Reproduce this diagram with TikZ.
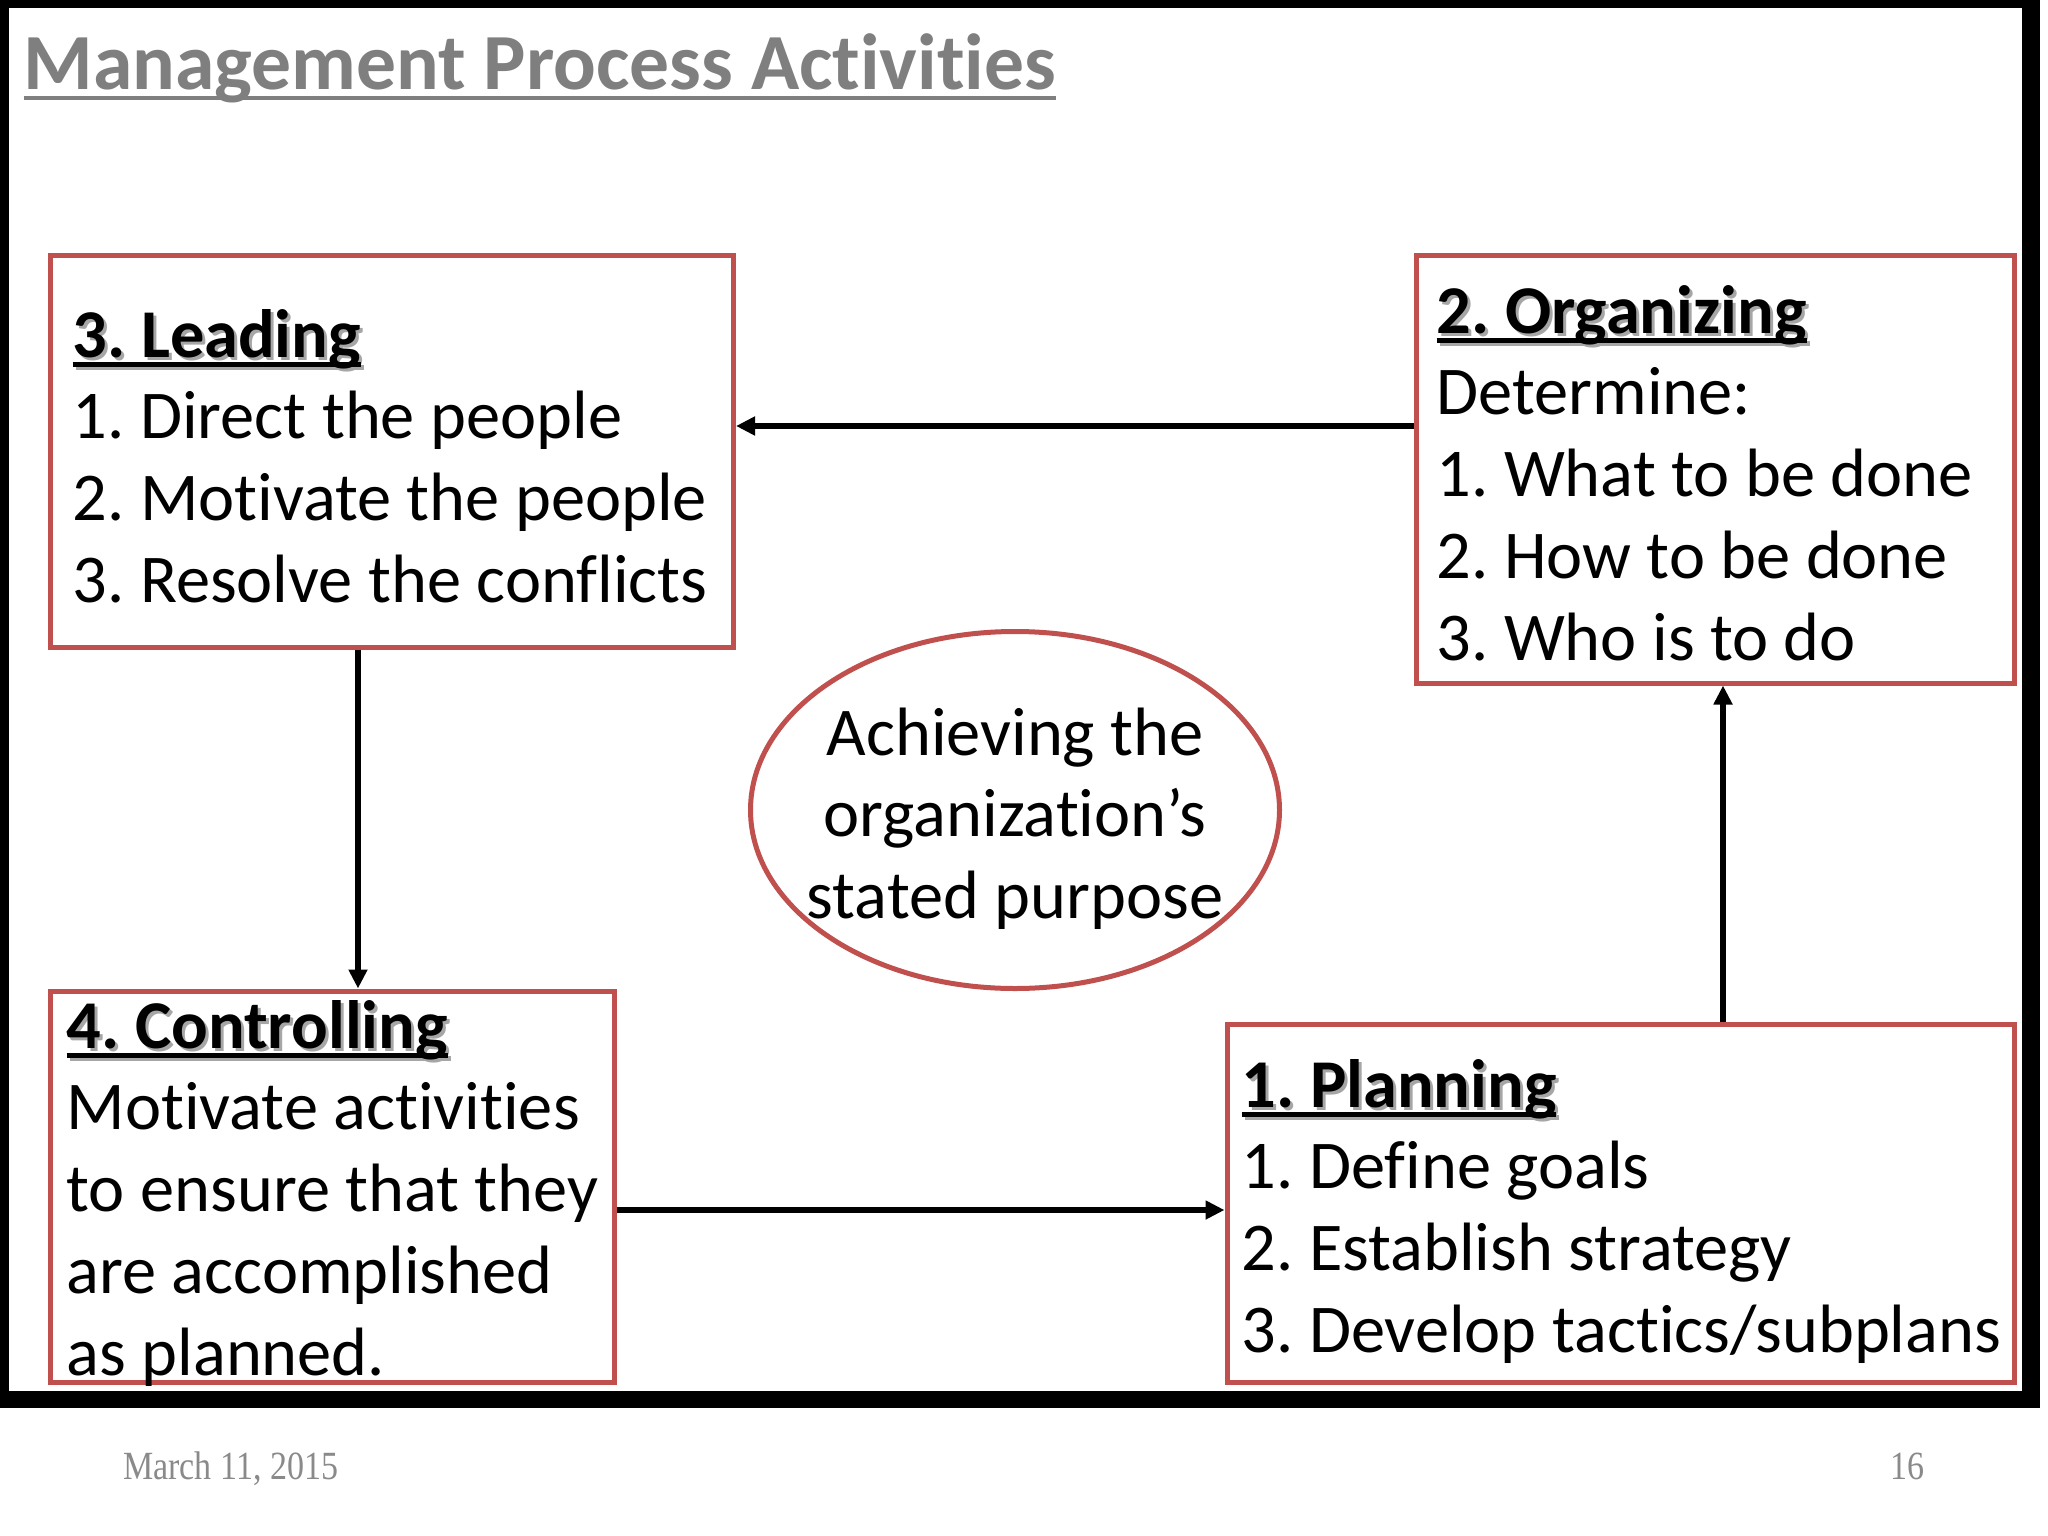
\documentclass[tikz,border=0pt]{standalone}
\usepackage{fontspec}
\usepackage{graphicx}
\setmainfont{Carlito}[Ligatures={NoCommon}]
\newfontfamily\footfont{Liberation Serif}
\usetikzlibrary{arrows.meta,shapes.geometric}
\definecolor{boxred}{HTML}{C0504D}
\definecolor{titlegray}{HTML}{7F7F7F}
\definecolor{footgray}{HTML}{8A8A8A}
\definecolor{shadowgray}{HTML}{A6A6A6}
\frenchspacing

\newcommand\ulrule[3]{\setbox0=\hbox{#3}\rlap{\rule[-#1]{\wd0}{#2}}\box0}
\newcommand\hd[1]{\rlap{\kern3pt\lower3pt\hbox{\color{shadowgray}\ulrule{9.5pt}{5pt}{\bfseries #1}}}\ulrule{9.5pt}{5pt}{\bfseries #1}}
\newcommand\leftlines[1]{\vtop{\baselineskip=81.75pt\lineskiplimit=-200pt\halign{##\hfil\cr#1\crcr}}}
\newcommand\centerlines[1]{\vtop{\baselineskip=81.75pt\lineskiplimit=-200pt\halign{\hfil##\hfil\cr#1\crcr}}}

\tikzset{
  box/.style={draw=boxred, line width=5pt, rectangle, inner sep=0pt},
  txt/.style={inner sep=0pt, anchor=base west, font=\fontsize{68.4pt}{81.75pt}\selectfont\frenchspacing},
  conn/.style={line width=5.5pt, -{Triangle[length=19pt,width=18pt]}},
  foot/.style={inner sep=0pt, text=footgray, font=\footfont\fontsize{40pt}{48pt}\selectfont}
}

\begin{document}
\begin{tikzpicture}[x=1pt,y=-1pt]
\useasboundingbox (0,0) rectangle (2048,1536);
\fill[white] (0,0) rectangle (2048,1536);
\fill[black] (0,0) rectangle (2040,1408);
\fill[white] (8.5,8.5) rectangle (2022,1391);

\node[inner sep=0pt, anchor=base west, text=titlegray, font=\fontsize{79.6pt}{95pt}\selectfont\bfseries] (title) at (23.5,89.3) {\ulrule{11pt}{4.5pt}{Management Process Activities}};

\node[box, minimum width=683.5pt, minimum height=392pt] (lead) at (391.75,451) {};
\node[box, minimum width=598pt, minimum height=428pt] (org) at (1715,469) {};
\node[box, minimum width=564pt, minimum height=391pt] (ctrl) at (332,1186.5) {};
\node[box, minimum width=787pt, minimum height=358pt] (plan) at (1620.5,1203) {};
\node[draw=boxred, line width=5pt, ellipse, inner sep=0pt, minimum width=529pt, minimum height=357pt] (goal) at (1015,810) {};

\node[txt] (leadtext) at (72.5,357) {\leftlines{\hd{3. Leading}\cr 1. Direct the people\cr 2. Motivate the people\cr 3. Resolve the conflicts}};
\node[txt] (orgtext) at (1436.5,333) {\leftlines{\hd{2. Organizing}\cr Determine:\cr 1. What to be done\cr 2. How to be done\cr 3. Who is to do}};
\node[txt] (ctrltext) at (66.5,1048) {\leftlines{\hd{4. Controlling}\cr Motivate activities\cr to ensure that they\cr are accomplished\cr as planned.}};
\node[txt] (plantext) at (1241.5,1107) {\leftlines{\hd{1. Planning}\cr 1. Define goals\cr 2. Establish strategy\cr 3. Develop tactics/subplans}};
\node[txt, anchor=base] (goaltext) at (1015,755) {\centerlines{Achieving the\cr organization’s\cr stated purpose}};

\node[foot, anchor=base west] (date) at (123,1479) {\scalebox{0.85}[1]{March 11, 2015}};
\node[foot, anchor=base east] (page) at (1925,1479) {\scalebox{0.85}[1]{16}};

\coordinate (ya) at (0,426);
\coordinate (xa) at (358,0);
\coordinate (yb) at (0,1210);
\coordinate (xb) at (1723,0);
\draw[conn] (org.west |- ya) -- (lead.east |- ya);
\draw[conn] (lead.south -| xa) -- (ctrl.north -| xa);
\draw[conn] (ctrl.east |- yb) -- (plan.west |- yb);
\draw[conn] (plan.north -| xb) -- (org.south -| xb);
\end{tikzpicture}
\end{document}
